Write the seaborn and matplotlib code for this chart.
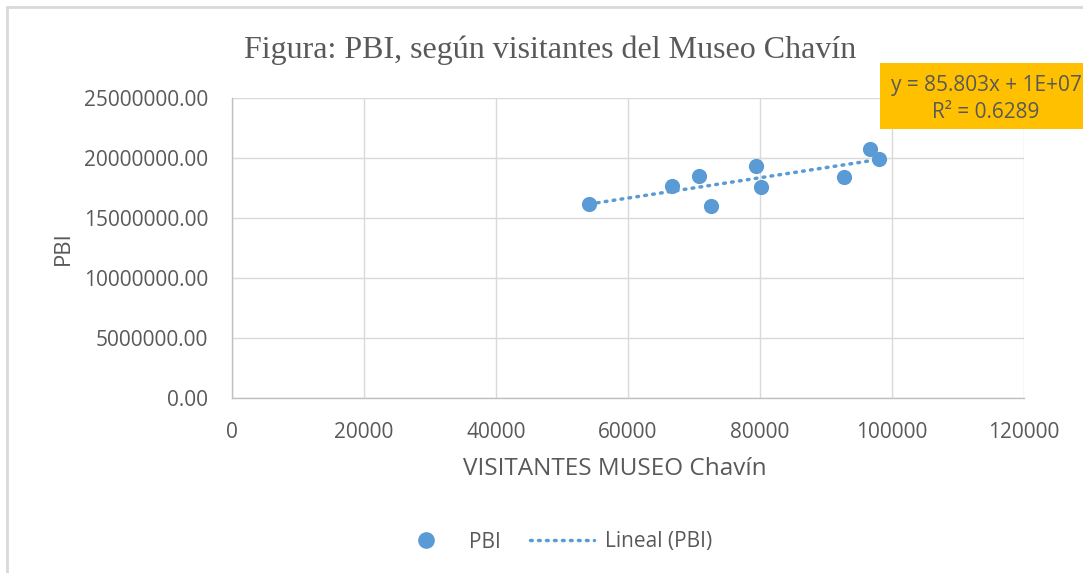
import numpy as np
import pandas as pd
import matplotlib
matplotlib.use("Agg")
import matplotlib.pyplot as plt
import seaborn as sns
from matplotlib.lines import Line2D
from matplotlib.patches import Rectangle

# Datos
visitantes = [54160, 66690, 70730, 72520, 79390, 80100, 92800, 96690, 98050]
pbi = [16200000, 17690000, 18520000, 16030000, 19350000, 17580000, 18380000, 20760000, 19930000]

xticks = [0, 20000, 40000, 60000, 80000, 100000, 120000]
yticks = [0, 5000000, 10000000, 15000000, 20000000, 25000000]

titulo = "Figura: PBI, según visitantes del Museo Chavín"
ecuacion = "y = 85.803x + 1E+07\nR² = 0.6289"

df = pd.DataFrame({"visitantes": visitantes, "pbi": pbi})

# Linea de tendencia lineal (como en Excel)
m, b = np.polyfit(df["visitantes"], df["pbi"], 1)
tend = pd.DataFrame({"visitantes": [df["visitantes"].min(), df["visitantes"].max()]})
tend["pbi"] = m * tend["visitantes"] + b

sns.set_style("white")
plt.rcParams["font.family"] = ["Open Sans", "DejaVu Sans"]

azul = "#5B9BD5"
gris = "#595959"

fig = plt.figure(figsize=(10.83, 5.73), dpi=100)
ax = fig.add_axes([232 / 1083, 1 - 398 / 573, (1024 - 232) / 1083, (398 - 98) / 573])

sns.scatterplot(data=df, x="visitantes", y="pbi", ax=ax, color=azul, s=120,
                edgecolor=azul, linewidth=0, zorder=3, legend=False)
ax.plot(tend["visitantes"], tend["pbi"], color=azul, linewidth=2.5,
        linestyle=(0, (0.5, 1.8)), dash_capstyle="round", zorder=2)

ax.set_xlim(0, 120000)
ax.set_ylim(0, 25000000)
ax.set_xticks(xticks)
ax.set_yticks(yticks)
ax.set_xticklabels([str(v) for v in xticks])
ax.set_yticklabels([f"{v:.2f}" for v in yticks])
ax.tick_params(axis="both", length=0, labelsize=15, labelcolor=gris)
ax.tick_params(axis="x", pad=17)
ax.tick_params(axis="y", pad=17)
ax.grid(True, color="#d9d9d9", linewidth=1)
ax.set_axisbelow(True)
for lado in ["top", "right"]:
    ax.spines[lado].set_visible(False)
for lado in ["left", "bottom"]:
    ax.spines[lado].set_color("#bfbfbf")
    ax.spines[lado].set_linewidth(1)

ax.set_xlabel("VISITANTES MUSEO Chavín", fontsize=17.5, color=gris)
ax.set_ylabel("PBI", fontsize=16, color=gris)
ax.xaxis.set_label_coords((615 - 232) / 792, (398 - 457) / 300)
ax.yaxis.set_label_coords((74 - 232) / 792, 0.5)

fig.text(550 / 1083, 1 - 50 / 573, titulo, ha="center", va="center",
         fontsize=23, color=gris, family="Liberation Serif")

# Cuadro de la ecuacion
fig.patches.append(Rectangle((880 / 1083, 1 - 129 / 573), 0.2, 66 / 573,
                             transform=fig.transFigure, facecolor="#FFC000",
                             edgecolor="none", zorder=5))
fig.text(986 / 1083, 1 - 99 / 573, ecuacion, ha="center", va="center",
         fontsize=15, color=gris, linespacing=1.4, zorder=6)

# Marco del area del grafico
fig.add_artist(Line2D([7 / 1083, 7 / 1083], [0, 1 - 7 / 573], color="#d9d9d9", linewidth=2))
fig.add_artist(Line2D([7 / 1083, 1], [1 - 7 / 573, 1 - 7 / 573], color="#d9d9d9", linewidth=2))

handles = [
    Line2D([], [], marker="o", color=azul, linestyle="none", markersize=11),
    Line2D([], [], color=azul, linewidth=2.5, linestyle=(0, (0.5, 1.8)), dash_capstyle="round"),
]
fig.legend(handles, ["PBI", "Lineal (PBI)"], loc="center", bbox_to_anchor=(553 / 1083, 1 - 542 / 573),
           ncol=2, frameon=False, fontsize=15, labelcolor=gris, handlelength=3.1,
           columnspacing=1.4, handletextpad=0.5)

fig.savefig("out.png", dpi=100)
